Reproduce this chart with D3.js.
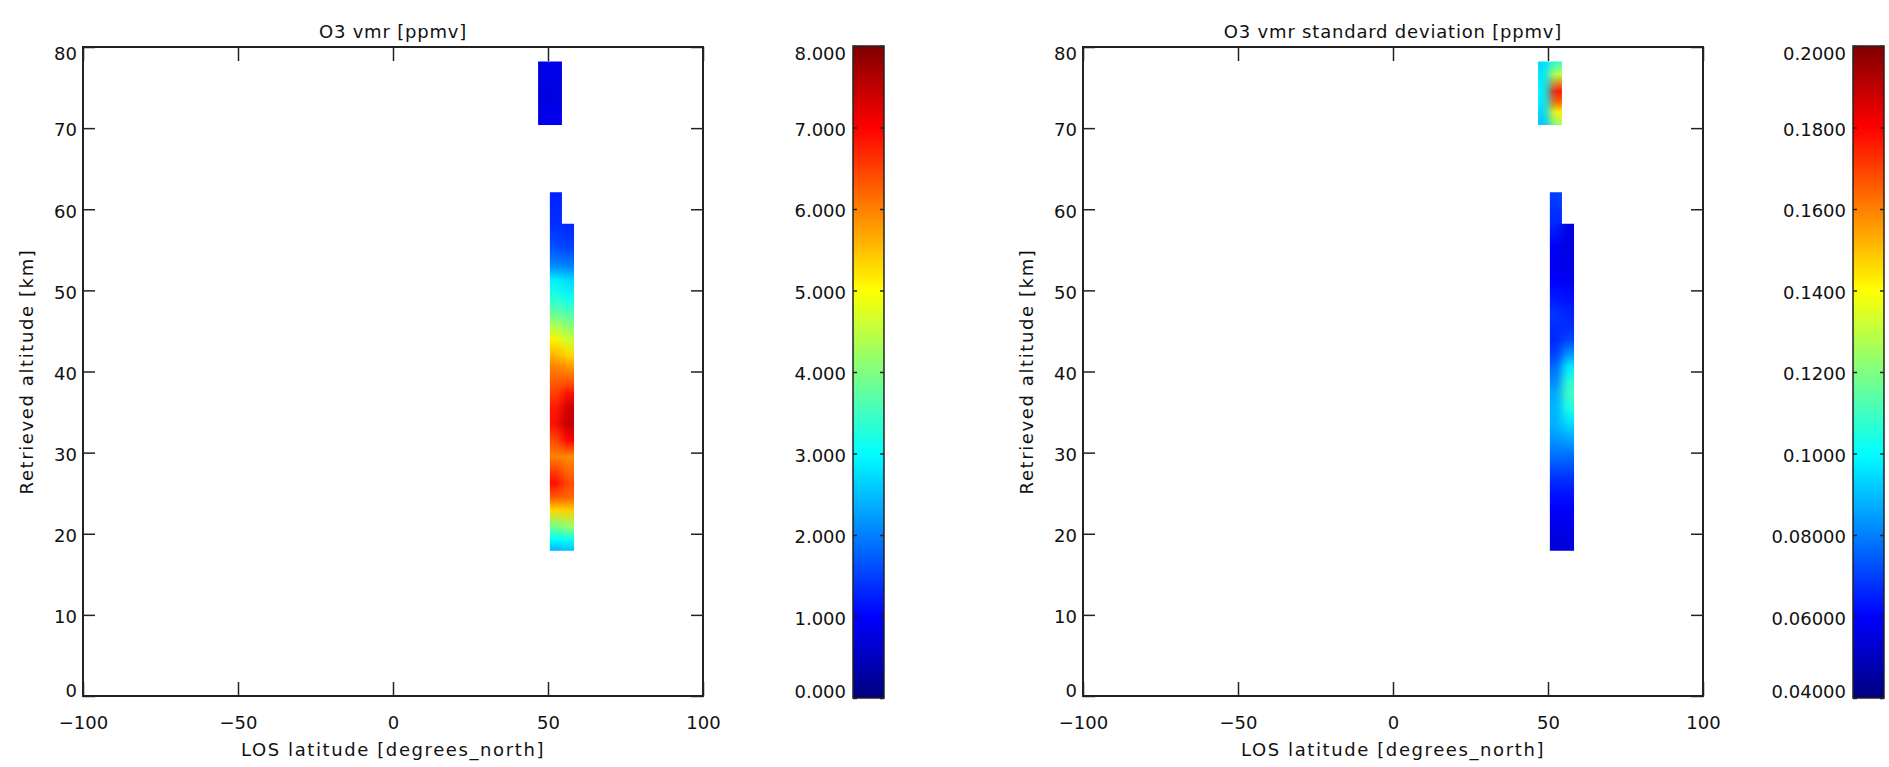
<!DOCTYPE html>
<html><head><meta charset="utf-8">
<script src="https://cdn.jsdelivr.net/npm/d3@7"></script>
<style>
body{margin:0;background:#fff;}
svg text{font-family:"DejaVu Sans",sans-serif;font-size:18px;fill:#111;}
svg text.axtitle{letter-spacing:1.6px;}
svg text.ptitle{letter-spacing:0.8px;}
</style>
</head><body>
<svg id="chart" width="1889" height="767"></svg>
<script>
// ---------------- data ----------------
const latTicks = [-100, -50, 0, 50, 100];
const altTicks = [0, 10, 20, 30, 40, 50, 60, 70, 80];
const vmrTicks = [0, 1, 2, 3, 4, 5, 6, 7, 8];
const vmrTickLabels = ["0.000","1.000","2.000","3.000","4.000","5.000","6.000","7.000","8.000"];
const sdTicks = [0.04, 0.06, 0.08, 0.10, 0.12, 0.14, 0.16, 0.18, 0.20];
const sdTickLabels = ["0.04000","0.06000","0.08000","0.1000","0.1200","0.1400","0.1600","0.1800","0.2000"];

// latitude edges of the four profile columns [west, east]
const colLatW = [46.8, 50.6, 50.6, 54.5];
const colLatE = [50.6, 54.5, 54.5, 58.4];
const colBlock = [0, 0, 1, 1];

// altitude levels (km) of each column
const altUpper = [78.2, 76.6, 74.5, 73.2, 72.0, 70.4];
const altLowerW = [62.1, 58.2, 55.4, 53.0, 51.3, 49.0, 47.2, 45.5, 43.9, 42.0, 40.6, 38.5, 37.3, 35.5, 33.6, 31.5, 29.5, 27.5, 26.2, 24.5, 22.9, 20.9, 19.3, 17.9];
const altLowerE = [58.2, 55.4, 53.0, 51.3, 49.0, 47.2, 45.5, 43.9, 42.0, 40.6, 38.5, 37.3, 35.5, 33.6, 31.5, 29.5, 27.5, 26.2, 24.5, 22.9, 20.9, 19.3, 17.9];

// O3 vmr [ppmv]
const vmrUpperW = [0.82, 0.78, 0.74, 0.74, 0.78, 0.86];
const vmrUpperE = [0.86, 0.82, 0.78, 0.80, 0.84, 0.9];
const vmrLowerW = [1.25, 1.35, 1.6, 2.1, 2.9, 3.3, 3.8, 4.4, 5.1, 5.6, 6.0, 6.3, 6.5, 6.8, 6.9, 6.4, 6.0, 6.6, 6.9, 6.3, 5.3, 3.9, 3.0, 2.4];
const vmrLowerE = [1.3, 1.5, 2.0, 2.7, 3.1, 3.6, 4.1, 4.6, 5.3, 5.8, 6.4, 6.9, 7.4, 7.5, 7.0, 5.9, 6.2, 6.4, 6.2, 5.4, 4.2, 3.1, 2.5];

// O3 vmr standard deviation [ppmv]
const sdUpperW = [0.094, 0.096, 0.098, 0.097, 0.094, 0.091];
const sdUpperE = [0.108, 0.130, 0.176, 0.164, 0.142, 0.124];
const sdLowerW = [0.070, 0.066, 0.059, 0.058, 0.060, 0.064, 0.068, 0.067, 0.066, 0.070, 0.076, 0.082, 0.086, 0.088, 0.088, 0.083, 0.077, 0.070, 0.066, 0.062, 0.059, 0.057, 0.055, 0.054];
const sdLowerE = [0.056, 0.055, 0.056, 0.058, 0.062, 0.065, 0.067, 0.071, 0.085, 0.097, 0.107, 0.110, 0.104, 0.095, 0.085, 0.077, 0.070, 0.066, 0.062, 0.059, 0.057, 0.055, 0.054];

// ---------------- drawing ----------------
const svg = d3.select("#chart");
const defs = svg.append("defs");

const jet = d3.scaleLinear()
  .domain([0, 0.125, 0.375, 0.625, 0.875, 1])
  .range(["#00007f", "#0000ff", "#00ffff", "#ffff00", "#ff0000", "#7f0000"])
  .clamp(true);

// horizontal smoothing filter (keeps block shape opaque)
const filt = defs.append("filter").attr("id", "smooth")
  .attr("x", -1).attr("y", -0.1).attr("width", 3).attr("height", 1.2)
  .attr("color-interpolation-filters", "sRGB");
filt.append("feGaussianBlur").attr("stdDeviation", "4 0.5");
filt.append("feComponentTransfer").append("feFuncA")
  .attr("type", "discrete").attr("tableValues", [0].concat(d3.range(19).map(() => 1)).join(" "));

const plotTop = 47, plotH = 649, plotW = 620;

function panel(cfg) {
  const x = d3.scaleLinear([-100, 100], [cfg.left, cfg.left + plotW]);
  const y = d3.scaleLinear([0, 80], [plotTop + plotH, plotTop]);
  const t = d3.scaleLinear([cfg.vmin, cfg.vmax], [0, 1]);
  const color = v => jet(t(v));
  const g = svg.append("g");

  const cols = [
    {alt: altUpper, val: cfg.upperW},
    {alt: altUpper, val: cfg.upperE},
    {alt: altLowerW, val: cfg.lowerW},
    {alt: altLowerE, val: cfg.lowerE}
  ];

  [0, 1].forEach(b => {
    const clip = defs.append("clipPath").attr("id", `clip-${cfg.id}-${b}`);
    const bg = g.append("g")
      .attr("clip-path", `url(#clip-${cfg.id}-${b})`)
      .attr("filter", "url(#smooth)");
    cols.forEach((c, i) => {
      if (colBlock[i] !== b) return;
      const yTop = y(d3.max(c.alt)), yBot = y(d3.min(c.alt));
      const gid = `grad-${cfg.id}-${i}`;
      const lg = defs.append("linearGradient").attr("id", gid)
        .attr("gradientUnits", "userSpaceOnUse")
        .attr("x1", 0).attr("x2", 0).attr("y1", yTop).attr("y2", yBot);
      c.alt.forEach((a, k) => {
        lg.append("stop").attr("offset", (y(a) - yTop) / (yBot - yTop))
          .attr("stop-color", color(c.val[k]));
      });
      clip.append("rect")
        .attr("x", x(colLatW[i])).attr("y", yTop)
        .attr("width", x(colLatE[i]) - x(colLatW[i])).attr("height", yBot - yTop);
      bg.append("rect")
        .attr("x", x(colLatW[i])).attr("y", yTop)
        .attr("width", x(colLatE[i]) - x(colLatW[i])).attr("height", yBot - yTop)
        .attr("fill", `url(#${gid})`);
    });
  });

  // axes
  const fmt = d => d < 0 ? "\u2212" + Math.abs(d) : String(d);
  const styleAxis = a => {
    a.select(".domain").remove();
    a.attr("font-size", null).attr("font-family", null).attr("color", "#222");
    a.selectAll(".tick line").attr("stroke-width", 1.5);
  };
  g.append("g").attr("transform", `translate(0,${plotTop + plotH})`)
    .call(d3.axisBottom(x).tickValues(latTicks).tickSizeInner(-14).tickSizeOuter(0).tickPadding(20).tickFormat(fmt))
    .call(styleAxis);
  g.append("g").attr("transform", `translate(0,${plotTop})`)
    .call(d3.axisTop(x).tickValues(latTicks).tickSizeInner(-14).tickSizeOuter(0).tickFormat(""))
    .call(styleAxis);
  const ya = g.append("g").attr("transform", `translate(${cfg.left},0)`)
    .call(d3.axisLeft(y).tickValues(altTicks).tickSizeInner(-12).tickSizeOuter(0).tickPadding(6).tickFormat(fmt))
    .call(styleAxis);
  ya.selectAll(".tick text").attr("transform", d => `translate(0,${d === 80 ? 7 : d === 0 ? -5 : 2})`);
  g.append("g").attr("transform", `translate(${cfg.left + plotW},0)`)
    .call(d3.axisRight(y).tickValues(altTicks).tickSizeInner(-12).tickSizeOuter(0).tickFormat(""))
    .call(styleAxis);

  g.append("rect").attr("x", cfg.left).attr("y", plotTop).attr("width", plotW).attr("height", plotH)
    .attr("fill", "none").attr("stroke", "#222").attr("stroke-width", 2);

  g.append("text").attr("class", "ptitle").attr("x", cfg.left + plotW / 2).attr("y", 38).attr("text-anchor", "middle").text(cfg.title);
  g.append("text").attr("class", "axtitle").attr("x", cfg.left + plotW / 2).attr("y", 756).attr("text-anchor", "middle").text("LOS latitude [degrees_north]");
  g.append("text").attr("class", "axtitle").attr("transform", `translate(${cfg.left - 50},${plotTop + plotH / 2}) rotate(-90)`)
    .attr("text-anchor", "middle").text("Retrieved altitude [km]");

  // colour bar
  const cbTop = 46, cbBot = 698, cbW = 31;
  const cy = d3.scaleLinear([cfg.vmin, cfg.vmax], [cbBot, cbTop]);
  const cgid = `cbar-${cfg.id}`;
  const cg = defs.append("linearGradient").attr("id", cgid)
    .attr("x1", 0).attr("x2", 0).attr("y1", 1).attr("y2", 0);
  d3.range(0, 1.0001, 0.025).forEach(s => {
    cg.append("stop").attr("offset", s).attr("stop-color", jet(s));
  });
  g.append("rect").attr("x", cfg.cbX).attr("y", cbTop).attr("width", cbW).attr("height", cbBot - cbTop)
    .attr("fill", `url(#${cgid})`).attr("stroke", "#222").attr("stroke-width", 1.5);
  const ca = g.append("g").attr("transform", `translate(${cfg.cbX},0)`)
    .call(d3.axisLeft(cy).tickValues(cfg.ticks).tickSizeInner(-4).tickSizeOuter(0).tickPadding(7)
      .tickFormat((d, i) => cfg.tickLabels[i]))
    .call(styleAxis);
  const n = cfg.ticks.length;
  ca.selectAll(".tick text").attr("transform", (d, i) => `translate(0,${i === n - 1 ? 8 : i === 0 ? -6 : 2})`);
  g.append("g").attr("transform", `translate(${cfg.cbX + cbW},0)`)
    .call(d3.axisRight(cy).tickValues(cfg.ticks).tickSizeInner(-4).tickSizeOuter(0).tickFormat(""))
    .call(styleAxis);
}

panel({id: "vmr", left: 83, cbX: 853, title: "O3 vmr [ppmv]", vmin: 0, vmax: 8,
  ticks: vmrTicks, tickLabels: vmrTickLabels,
  upperW: vmrUpperW, upperE: vmrUpperE, lowerW: vmrLowerW, lowerE: vmrLowerE});
panel({id: "sd", left: 1083, cbX: 1853, title: "O3 vmr standard deviation [ppmv]", vmin: 0.04, vmax: 0.2,
  ticks: sdTicks, tickLabels: sdTickLabels,
  upperW: sdUpperW, upperE: sdUpperE, lowerW: sdLowerW, lowerE: sdLowerE});
</script>
</body></html>
